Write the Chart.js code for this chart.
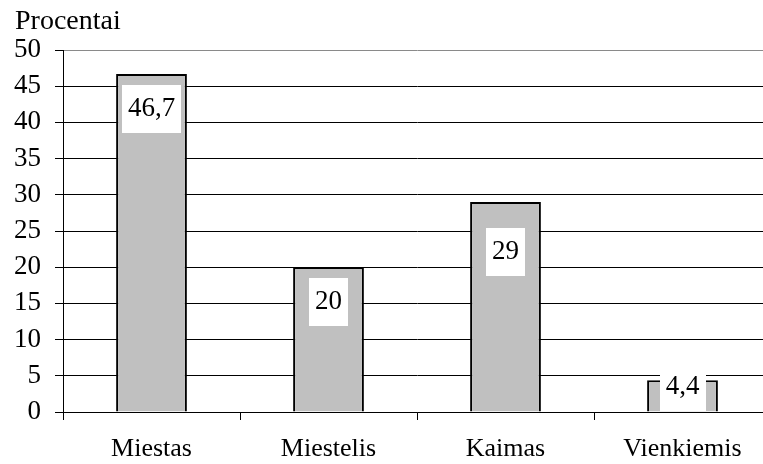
<!DOCTYPE html>
<html>
<head>
<meta charset="utf-8">
<script src="https://cdn.jsdelivr.net/npm/chart.js@4/dist/chart.umd.min.js"></script>
<style>
  html, body { margin: 0; padding: 0; background: #fff; overflow: hidden; width: 763px; height: 464px; }
  #wrap { width: 780px; height: 464px; }
</style>
</head>
<body>
<div id="wrap"><canvas id="c" width="780" height="464"></canvas></div>
<script>
// Settlement type shares, percent
const categories = ['Miestas', 'Miestelis', 'Kaimas', 'Vienkiemis'];
const shares = [46.7, 20, 29, 4.4];
const axisMin = 0;
const axisMax = 50;
const axisStep = 5;
const unitLabel = 'Procentai';

const FONT = '"Liberation Serif", "Times New Roman", serif';

// White value boxes placed inside each bar
const valueBoxes = {
  id: 'valueBoxes',
  afterDatasetsDraw(chart, args, opts) {
    const ctx = chart.ctx;
    const meta = chart.getDatasetMeta(0);
    ctx.save();
    ctx.font = '27px ' + FONT;
    ctx.textAlign = 'center';
    ctx.textBaseline = 'middle';
    meta.data.forEach((bar, i) => {
      const txt = String(shares[i]).replace('.', ',');
      const w = ctx.measureText(txt).width + 12;
      const h = 48;
      const cy = bar.y + opts.drop[i];
      ctx.fillStyle = '#ffffff';
      ctx.fillRect(Math.round(bar.x - w / 2), Math.round(cy - h / 2), Math.round(w), h);
      ctx.fillStyle = '#000000';
      ctx.fillText(txt, bar.x, cy);
    });
    ctx.restore();
  }
};

// Unit caption above the value axis
const unitCaption = {
  id: 'unitCaption',
  afterDraw(chart) {
    const ctx = chart.ctx;
    ctx.save();
    ctx.font = '28px ' + FONT;
    ctx.fillStyle = '#000';
    ctx.textAlign = 'left';
    ctx.textBaseline = 'alphabetic';
    ctx.fillText(unitLabel, 15, 29);
    ctx.restore();
  }
};

new Chart(document.getElementById('c'), {
  type: 'bar',
  data: {
    labels: categories,
    datasets: [{
      data: shares,
      backgroundColor: '#c0c0c0',
      borderColor: '#000000',
      borderWidth: 2,
      borderSkipped: 'start',
      categoryPercentage: 1.0,
      barPercentage: 0.4
    }]
  },
  options: {
    responsive: false,
    animation: false,
    devicePixelRatio: 1,
    layout: { padding: { top: 50, right: 9, bottom: 0, left: 0 } },
    plugins: {
      legend: { display: false },
      tooltip: { enabled: false },
      title: { display: false },
      valueBoxes: { drop: [35, 35, 50, 7] }
    },
    scales: {
      x: {
        offset: true,
        grid: {
          offset: true,
          drawOnChartArea: false,
          drawTicks: true,
          tickLength: 8,
          color: '#000',
          tickColor: '#000',
          lineWidth: 1
        },
        border: { display: true, color: '#000', width: 1 },
        ticks: {
          color: '#000',
          font: { family: FONT, size: 26 },
          padding: 14,
          maxRotation: 0,
          autoSkip: false
        },
        afterFit(scale) { scale.height = 52; }
      },
      y: {
        min: axisMin,
        max: axisMax,
        grid: {
          drawTicks: true,
          tickLength: 8,
          color: (c) => (c.tick && c.tick.value === axisMax ? '#8a8a8a' : '#000'),
          tickColor: '#000',
          lineWidth: 1
        },
        border: { display: true, color: '#000', width: 1 },
        ticks: {
          stepSize: axisStep,
          color: '#000',
          font: { family: FONT, size: 27 },
          padding: 14
        },
        afterFit(scale) { scale.width = 63; }
      }
    }
  },
  plugins: [valueBoxes, unitCaption]
});
</script>
</body>
</html>
